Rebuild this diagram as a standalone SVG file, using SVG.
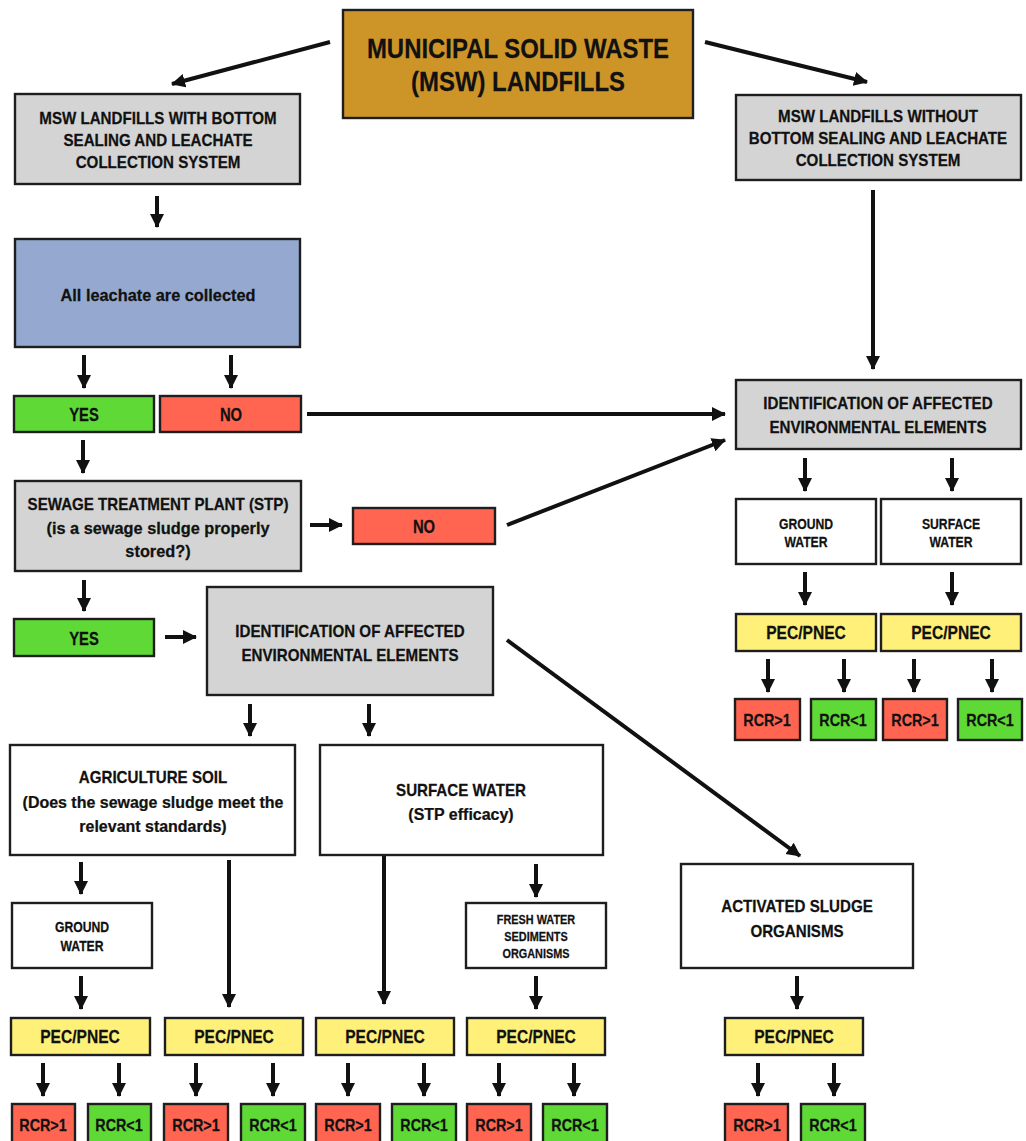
<svg xmlns="http://www.w3.org/2000/svg" width="1026" height="1141" viewBox="0 0 1026 1141">
<style>
.b{stroke:#1e1e1e;stroke-width:2.4}
.gold{fill:#CD9528}.gray{fill:#D4D4D4}.blue{fill:#94A8D0}.grn{fill:#5FD935}.red{fill:#FF6550}.yel{fill:#FFF07A}.wht{fill:#FFFFFF}
text{font-family:"Liberation Sans",Arial,sans-serif;font-weight:bold;fill:#111;text-anchor:middle;stroke:#111;stroke-width:0.25}
.t17{font-size:17px}.t18{font-size:18.5px}.t30{font-size:28.5px}.t13{font-size:14px}.t12{font-size:12.5px}.t16{font-size:16.5px}.tp{font-size:17.5px}
.c{stroke:#111;stroke-width:4;fill:none;marker-end:url(#ah)}
</style>
<defs>
<marker id="ah" markerUnits="userSpaceOnUse" markerWidth="16" markerHeight="16" refX="13" refY="8" orient="auto">
<path d="M0,1 L14,8 L0,15 Z" fill="#111"/>
</marker>
</defs>
<rect width="1026" height="1141" fill="#fff"/>

<g id="connectors">
<line class="c" x1="330" y1="42" x2="172" y2="84"/>
<line class="c" x1="705" y1="42" x2="867" y2="82"/>
<line class="c" x1="157" y1="196" x2="157" y2="227"/>
<line class="c" x1="84" y1="355" x2="84" y2="388"/>
<line class="c" x1="231" y1="355" x2="231" y2="388"/>
<line class="c" x1="307" y1="414" x2="725" y2="414"/>
<line class="c" x1="873" y1="190" x2="873" y2="369"/>
<line class="c" x1="83" y1="440" x2="83" y2="473"/>
<line class="c" x1="310" y1="525" x2="342" y2="525"/>
<line class="c" x1="507" y1="525" x2="725" y2="440"/>
<line class="c" x1="84" y1="580" x2="84" y2="611"/>
<line class="c" x1="165" y1="637" x2="196" y2="637"/>
<line class="c" x1="250" y1="704" x2="250" y2="736"/>
<line class="c" x1="369" y1="704" x2="369" y2="736"/>
<line class="c" x1="507" y1="640" x2="800" y2="856"/>
<line class="c" x1="81" y1="862" x2="81" y2="894"/>
<line class="c" x1="229" y1="860" x2="229" y2="1007"/>
<line class="c" x1="384" y1="855" x2="384" y2="1004"/>
<line class="c" x1="536" y1="864" x2="536" y2="897"/>
<line class="c" x1="81" y1="976" x2="81" y2="1009"/>
<line class="c" x1="536" y1="976" x2="536" y2="1009"/>
<line class="c" x1="797" y1="976" x2="797" y2="1009"/>
<line class="c" x1="43" y1="1063" x2="43" y2="1096"/>
<line class="c" x1="119" y1="1063" x2="119" y2="1096"/>
<line class="c" x1="196" y1="1063" x2="196" y2="1096"/>
<line class="c" x1="273" y1="1063" x2="273" y2="1096"/>
<line class="c" x1="348" y1="1063" x2="348" y2="1096"/>
<line class="c" x1="424" y1="1063" x2="424" y2="1096"/>
<line class="c" x1="499" y1="1063" x2="499" y2="1096"/>
<line class="c" x1="574" y1="1063" x2="574" y2="1096"/>
<line class="c" x1="758" y1="1063" x2="758" y2="1096"/>
<line class="c" x1="834" y1="1063" x2="834" y2="1096"/>
<line class="c" x1="805" y1="458" x2="805" y2="491"/>
<line class="c" x1="952" y1="458" x2="952" y2="491"/>
<line class="c" x1="805" y1="572" x2="805" y2="605"/>
<line class="c" x1="952" y1="572" x2="952" y2="605"/>
<line class="c" x1="768" y1="659" x2="768" y2="692"/>
<line class="c" x1="844" y1="659" x2="844" y2="692"/>
<line class="c" x1="914" y1="659" x2="914" y2="692"/>
<line class="c" x1="992" y1="659" x2="992" y2="692"/>
</g>

<g id="msw"><rect class="b gold" x="343" y="10" width="350" height="108"/>
<text class="t30" transform="translate(518,58) scale(0.84,1)">MUNICIPAL SOLID WASTE</text>
<text class="t30" transform="translate(518,91) scale(0.84,1)">(MSW) LANDFILLS</text></g>

<g id="with"><rect class="b gray" x="15" y="94" width="285" height="90"/>
<text class="t17" transform="translate(158,124) scale(0.89,1)">MSW LANDFILLS WITH BOTTOM</text>
<text class="t17" transform="translate(158,146) scale(0.89,1)">SEALING AND LEACHATE</text>
<text class="t17" transform="translate(158,168) scale(0.89,1)">COLLECTION SYSTEM</text></g>

<g id="without"><rect class="b gray" x="736" y="95" width="285" height="85"/>
<text class="t17" transform="translate(878,122) scale(0.89,1)">MSW LANDFILLS WITHOUT</text>
<text class="t17" transform="translate(878,144) scale(0.89,1)">BOTTOM SEALING AND LEACHATE</text>
<text class="t17" transform="translate(878,166) scale(0.89,1)">COLLECTION SYSTEM</text></g>

<g id="leachate"><rect class="b blue" x="15" y="239" width="285" height="108"/>
<text class="t17" transform="translate(158,301) scale(0.96,1)">All leachate are collected</text></g>

<g id="yes1"><rect class="b grn" x="14" y="396" width="140" height="36"/><text class="t18" transform="translate(84,421) scale(0.8,1)">YES</text></g>
<g id="no1"><rect class="b red" x="160" y="396" width="141" height="36"/><text class="t18" transform="translate(231,421) scale(0.8,1)">NO</text></g>

<g id="idright"><rect class="b gray" x="736" y="380" width="285" height="69"/>
<text class="t17" transform="translate(878,409) scale(0.89,1)">IDENTIFICATION OF AFFECTED</text>
<text class="t17" transform="translate(878,433) scale(0.89,1)">ENVIRONMENTAL ELEMENTS</text></g>

<g id="stp"><rect class="b gray" x="15" y="481" width="286" height="90"/>
<text class="t17" transform="translate(158,510) scale(0.89,1)">SEWAGE TREATMENT PLANT (STP)</text>
<text class="t17" transform="translate(158,534) scale(0.96,1)">(is a sewage sludge properly</text>
<text class="t17" transform="translate(158,557) scale(0.96,1)">stored?)</text></g>

<g id="no2"><rect class="b red" x="353" y="508" width="142" height="36"/><text class="t18" transform="translate(424,533) scale(0.8,1)">NO</text></g>
<g id="yes2"><rect class="b grn" x="14" y="619" width="140" height="37"/><text class="t18" transform="translate(84,645) scale(0.8,1)">YES</text></g>

<g id="idmid"><rect class="b gray" x="207" y="587" width="286" height="108"/>
<text class="t17" transform="translate(350,637) scale(0.89,1)">IDENTIFICATION OF AFFECTED</text>
<text class="t17" transform="translate(350,661) scale(0.89,1)">ENVIRONMENTAL ELEMENTS</text></g>

<g id="agri"><rect class="b wht" x="10" y="745" width="285" height="110"/>
<text class="t17" transform="translate(153,783) scale(0.89,1)">AGRICULTURE SOIL</text>
<text class="t17" transform="translate(153,808) scale(0.94,1)">(Does the sewage sludge meet the</text>
<text class="t17" transform="translate(153,832) scale(0.94,1)">relevant standards)</text></g>

<g id="surf"><rect class="b wht" x="320" y="745" width="283" height="110"/>
<text class="t17" transform="translate(461,796) scale(0.89,1)">SURFACE WATER</text>
<text class="t17" transform="translate(461,820) scale(0.94,1)">(STP efficacy)</text></g>

<g id="gw1"><rect class="b wht" x="12" y="903" width="140" height="65"/>
<text class="t13" transform="translate(82,932) scale(0.87,1)">GROUND</text>
<text class="t13" transform="translate(82,951) scale(0.87,1)">WATER</text></g>

<g id="fresh"><rect class="b wht" x="466" y="903" width="140" height="65"/>
<text class="t12" transform="translate(536,924) scale(0.87,1)">FRESH WATER</text>
<text class="t12" transform="translate(536,941) scale(0.87,1)">SEDIMENTS</text>
<text class="t12" transform="translate(536,958) scale(0.87,1)">ORGANISMS</text></g>

<g id="actsl"><rect class="b wht" x="681" y="864" width="232" height="104"/>
<text class="t17" transform="translate(797,912) scale(0.89,1)">ACTIVATED SLUDGE</text>
<text class="t17" transform="translate(797,937) scale(0.89,1)">ORGANISMS</text></g>

<g id="gw2"><rect class="b wht" x="736" y="499" width="140" height="65"/>
<text class="t13" transform="translate(806,529) scale(0.87,1)">GROUND</text>
<text class="t13" transform="translate(806,547) scale(0.87,1)">WATER</text></g>
<g id="sw2"><rect class="b wht" x="881" y="499" width="140" height="65"/>
<text class="t13" transform="translate(951,529) scale(0.87,1)">SURFACE</text>
<text class="t13" transform="translate(951,547) scale(0.87,1)">WATER</text></g>

<g id="pecR1"><rect class="b yel" x="736" y="614" width="140" height="37"/><text class="tp" transform="translate(806,639) scale(0.89,1)">PEC/PNEC</text></g>
<g id="pecR2"><rect class="b yel" x="881" y="614" width="140" height="37"/><text class="tp" transform="translate(951,639) scale(0.89,1)">PEC/PNEC</text></g>
<g id="rcrR1"><rect class="b red" x="735" y="699" width="65" height="41"/><text class="t16" transform="translate(767,726) scale(0.87,1)">RCR&gt;1</text></g>
<g id="rcrR2"><rect class="b grn" x="811" y="699" width="65" height="41"/><text class="t16" transform="translate(843,726) scale(0.87,1)">RCR&lt;1</text></g>
<g id="rcrR3"><rect class="b red" x="883" y="699" width="64" height="41"/><text class="t16" transform="translate(915,726) scale(0.87,1)">RCR&gt;1</text></g>
<g id="rcrR4"><rect class="b grn" x="958" y="699" width="64" height="41"/><text class="t16" transform="translate(990,726) scale(0.87,1)">RCR&lt;1</text></g>

<g id="pec1"><rect class="b yel" x="11" y="1018" width="139" height="37"/><text class="tp" transform="translate(80,1043) scale(0.89,1)">PEC/PNEC</text></g>
<g id="pec2"><rect class="b yel" x="165" y="1018" width="138" height="37"/><text class="tp" transform="translate(234,1043) scale(0.89,1)">PEC/PNEC</text></g>
<g id="pec3"><rect class="b yel" x="316" y="1018" width="138" height="37"/><text class="tp" transform="translate(385,1043) scale(0.89,1)">PEC/PNEC</text></g>
<g id="pec4"><rect class="b yel" x="467" y="1018" width="138" height="37"/><text class="tp" transform="translate(536,1043) scale(0.89,1)">PEC/PNEC</text></g>
<g id="pec5"><rect class="b yel" x="725" y="1018" width="138" height="37"/><text class="tp" transform="translate(794,1043) scale(0.89,1)">PEC/PNEC</text></g>

<g id="rcr1a"><rect class="b red" x="12" y="1104" width="63" height="45"/><text class="t16" transform="translate(43,1131) scale(0.87,1)">RCR&gt;1</text></g>
<g id="rcr1b"><rect class="b grn" x="88" y="1104" width="63" height="45"/><text class="t16" transform="translate(119,1131) scale(0.87,1)">RCR&lt;1</text></g>
<g id="rcr2a"><rect class="b red" x="164" y="1104" width="64" height="45"/><text class="t16" transform="translate(196,1131) scale(0.87,1)">RCR&gt;1</text></g>
<g id="rcr2b"><rect class="b grn" x="241" y="1104" width="64" height="45"/><text class="t16" transform="translate(273,1131) scale(0.87,1)">RCR&lt;1</text></g>
<g id="rcr3a"><rect class="b red" x="316" y="1104" width="64" height="45"/><text class="t16" transform="translate(348,1131) scale(0.87,1)">RCR&gt;1</text></g>
<g id="rcr3b"><rect class="b grn" x="392" y="1104" width="64" height="45"/><text class="t16" transform="translate(424,1131) scale(0.87,1)">RCR&lt;1</text></g>
<g id="rcr4a"><rect class="b red" x="467" y="1104" width="64" height="45"/><text class="t16" transform="translate(499,1131) scale(0.87,1)">RCR&gt;1</text></g>
<g id="rcr4b"><rect class="b grn" x="543" y="1104" width="64" height="45"/><text class="t16" transform="translate(575,1131) scale(0.87,1)">RCR&lt;1</text></g>
<g id="rcr5a"><rect class="b red" x="725" y="1104" width="63" height="45"/><text class="t16" transform="translate(757,1131) scale(0.87,1)">RCR&gt;1</text></g>
<g id="rcr5b"><rect class="b grn" x="801" y="1104" width="64" height="45"/><text class="t16" transform="translate(833,1131) scale(0.87,1)">RCR&lt;1</text></g>
</svg>
